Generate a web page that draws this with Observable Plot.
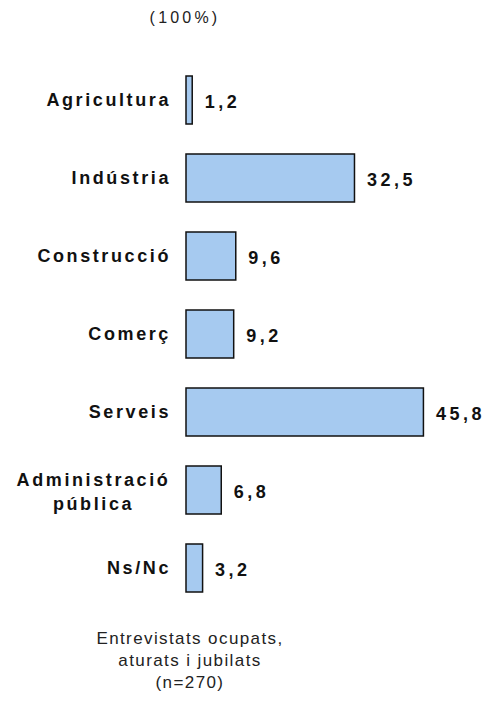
<!DOCTYPE html>
<html>
<head>
<meta charset="utf-8">
<script src="https://cdn.jsdelivr.net/npm/d3@7"></script>
<script src="https://cdn.jsdelivr.net/npm/@observablehq/plot@0.6"></script>
<style>
  body { margin: 0; background: #fff; font-family: "Liberation Sans", Arial, sans-serif; }
  #title { width: 370px; height: 36px; line-height: 36px; text-align: center; font-size: 16px; letter-spacing: 3.2px; color: #222; }
  #chart svg text { letter-spacing: 2.6px; }
  #chart svg text.val { letter-spacing: 3.5px; }
  #caption { width: 380px; margin-top: 2px; text-align: center; font-size: 17px; line-height: 22px; letter-spacing: 1.4px; color: #222; }
</style>
</head>
<body>
<div id="title">(100%)</div>
<div id="chart"></div>
<div id="caption">Entrevistats ocupats,<br>aturats i jubilats<br>(n=270)</div>
<script>
const categories = ["Agricultura", "Indústria", "Construcció", "Comerç", "Serveis", "Administració pública", "Ns/Nc"];
const values = [1.2, 32.5, 9.6, 9.2, 45.8, 6.8, 3.2];
const twoLineCategory = "Administració pública";
const twoLineLabel = "Administració\npública";

const data = categories.map((c, i) => ({category: c, value: values[i]}));
const fmt = v => v.toFixed(1).replace(".", ",");

const chart = Plot.plot({
  width: 487,
  height: 590,
  marginLeft: 186,
  marginRight: 41.8,
  marginTop: 7,
  marginBottom: 0,
  style: {fontFamily: "'Liberation Sans', Arial, sans-serif", color: "#111"},
  x: {domain: [0, 50], axis: null},
  y: {domain: categories, padding: 0.38, label: null},
  marks: [
    Plot.barX(data, {y: "category", x: "value", fill: "#A6CAF0", stroke: "#111", strokeWidth: 1.5}),
    Plot.axisY({
      tickSize: 0,
      tickPadding: 15.5,
      fontSize: 18,
      fontWeight: "bold",
      tickFormat: d => d === twoLineCategory ? "" : d
    }),
    Plot.text([twoLineCategory], {
      y: d => d,
      text: () => twoLineLabel,
      frameAnchor: "left",
      textAnchor: "middle",
      dx: -93,
      lineHeight: 1.3,
      fontSize: 18,
      fontWeight: "bold"
    }),
    Plot.text(data, {
      y: "category",
      x: "value",
      text: d => fmt(d.value),
      textAnchor: "start",
      dx: 12,
      dy: 2,
      fontSize: 18,
      fontWeight: "bold"
    })
  ]
});
chart.querySelectorAll("g[aria-label='text']").forEach((g, i, all) => {
  if (i === all.length - 1) g.querySelectorAll("text").forEach(t => t.classList.add("val"));
});
document.getElementById("chart").appendChild(chart);
</script>
</body>
</html>
